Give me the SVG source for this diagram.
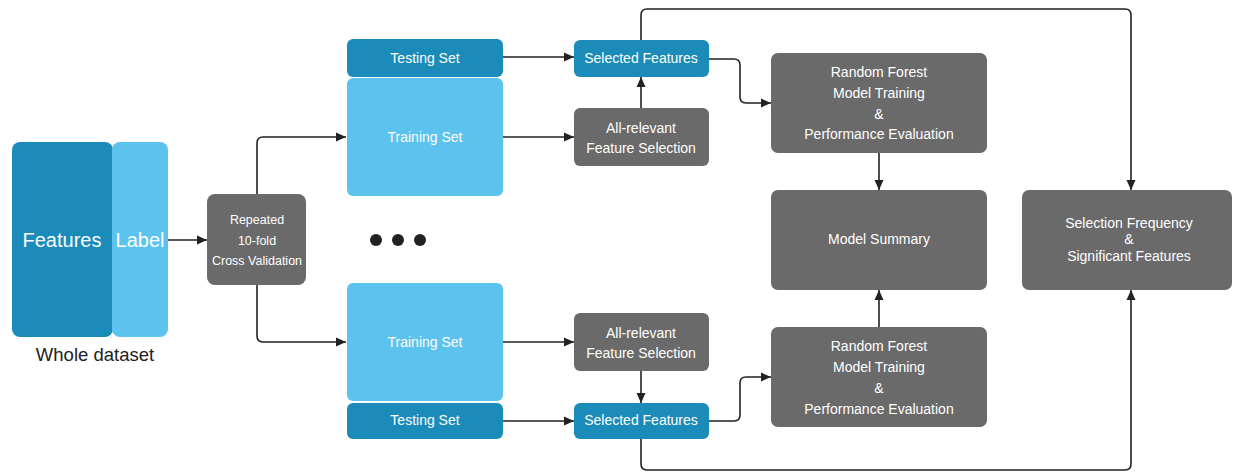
<svg xmlns="http://www.w3.org/2000/svg" width="1233" height="472" viewBox="0 0 1233 472">
<style>
.dark{fill:#1b8bb9}
.light{fill:#5cc2ee}
.grey{fill:#6a6a6a}
text{font-family:"Liberation Sans",Arial,sans-serif;fill:#fff;text-anchor:middle}
.t{font-size:14px}
.s{font-size:12.5px}
.big{font-size:20px}
.cap{font-size:18.5px;fill:#222}
.conn path{fill:none;stroke:#222;stroke-width:1.6}
</style>
<defs>
<marker id="ah" viewBox="0 0 10 10" refX="10" refY="5" markerWidth="10" markerHeight="10" markerUnits="userSpaceOnUse" orient="auto">
<path d="M0,0.5 L10,5 L0,9.5 z" fill="#222"/>
</marker>
</defs>
<g id="features"><rect class="dark" x="12" y="142" width="101" height="195" rx="8"/><text class="big" x="62" y="247">Features</text></g>
<g id="label"><rect class="light" x="112" y="142" width="56" height="195" rx="8"/><text class="big" x="140" y="247">Label</text></g>
<g id="whole"><text class="cap" x="95" y="361">Whole dataset</text></g>
<g id="cv"><rect class="grey" x="207" y="194" width="99" height="91" rx="8"/><text class="s" x="257" y="224">Repeated</text><text class="s" x="257" y="245">10-fold</text><text class="s" x="257" y="265">Cross Validation</text></g>
<g id="test1"><rect class="dark" x="347" y="39" width="156" height="38" rx="6"/><text class="t" x="425" y="63">Testing Set</text></g>
<g id="train1"><rect class="light" x="347" y="78" width="156" height="118" rx="6"/><text class="t" x="425" y="142">Training Set</text></g>
<g id="sel1"><rect class="dark" x="574" y="40" width="135" height="37" rx="6"/><text class="t" x="641" y="63">Selected Features</text></g>
<g id="arfs1"><rect class="grey" x="574" y="108" width="135" height="58" rx="6"/><text class="t" x="641" y="133">All-relevant</text><text class="t" x="641" y="153">Feature Selection</text></g>
<g id="train2"><rect class="light" x="347" y="283" width="156" height="118" rx="6"/><text class="t" x="425" y="347">Training Set</text></g>
<g id="test2"><rect class="dark" x="347" y="403" width="156" height="36" rx="6"/><text class="t" x="425" y="425">Testing Set</text></g>
<g id="arfs2"><rect class="grey" x="574" y="313" width="135" height="58" rx="6"/><text class="t" x="641" y="338">All-relevant</text><text class="t" x="641" y="358">Feature Selection</text></g>
<g id="sel2"><rect class="dark" x="574" y="403" width="135" height="36" rx="6"/><text class="t" x="641" y="425">Selected Features</text></g>
<g id="rf1"><rect class="grey" x="771" y="53" width="216" height="100" rx="7"/><text class="t" x="879" y="77">Random Forest</text><text class="t" x="879" y="98">Model Training</text><text class="t" x="879" y="119">&amp;</text><text class="t" x="879" y="139">Performance Evaluation</text></g>
<g id="summary"><rect class="grey" x="771" y="190" width="216" height="100" rx="7"/><text class="t" x="879" y="244">Model Summary</text></g>
<g id="rf2"><rect class="grey" x="771" y="327" width="216" height="100" rx="7"/><text class="t" x="879" y="351">Random Forest</text><text class="t" x="879" y="372">Model Training</text><text class="t" x="879" y="393">&amp;</text><text class="t" x="879" y="414">Performance Evaluation</text></g>
<g id="freq"><rect class="grey" x="1022" y="190" width="210" height="100" rx="7"/><text class="t" x="1129" y="228">Selection Frequency</text><text class="t" x="1129" y="244">&amp;</text><text class="t" x="1129" y="261">Significant Features</text></g>
<g id="dots" fill="#222"><circle cx="376" cy="240" r="6"/><circle cx="398" cy="240" r="6"/><circle cx="420" cy="240" r="6"/></g>
<g class="conn">
<path d="M168,240 H207" marker-end="url(#ah)"/>
<path d="M257,194 V143 Q257,137 263,137 H346" marker-end="url(#ah)"/>
<path d="M257,285 V336 Q257,342 263,342 H346" marker-end="url(#ah)"/>
<path d="M503,57 H574" marker-end="url(#ah)"/>
<path d="M503,137 H574" marker-end="url(#ah)"/>
<path d="M641,108 V77" marker-end="url(#ah)"/>
<path d="M503,342 H574" marker-end="url(#ah)"/>
<path d="M503,421 H574" marker-end="url(#ah)"/>
<path d="M641,371 V403" marker-end="url(#ah)"/>
<path d="M709,59 H734 Q740,59 740,65 V97 Q740,103 746,103 H771" marker-end="url(#ah)"/>
<path d="M709,421 H734 Q740,421 740,415 V383 Q740,377 746,377 H771" marker-end="url(#ah)"/>
<path d="M879,153 V190" marker-end="url(#ah)"/>
<path d="M879,327 V290" marker-end="url(#ah)"/>
<path d="M641,40 V15 Q641,9 647,9 H1125 Q1131,9 1131,15 V190" marker-end="url(#ah)"/>
<path d="M641,439 V464 Q641,470 647,470 H1125 Q1131,470 1131,464 V290" marker-end="url(#ah)"/>
</g>
</svg>
